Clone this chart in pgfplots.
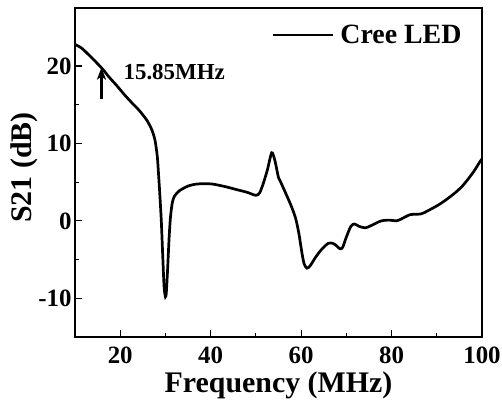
\documentclass[border=0pt]{standalone}
\usepackage{pgfplots}
\pgfplotsset{compat=1.18}
\usepackage{fontspec}
\setmainfont{Liberation Serif}
\usetikzlibrary{calc,arrows.meta}

% Measured transmission of the LED link
\pgfplotstableread{
f s21
10 22.8
11.5 22.3
13.3 21.3
15 20.3
16.2 19.55
17.5 18.6
19.2 17.5
21 16.25
22.5 15.3
24 14.4
25 13.7
26 12.9
27 11.75
27.7 10.4
28.2 8.3
28.5 5.8
28.8 3.0
29.1 -0.2
29.4 -4.5
29.7 -8.5
30.0 -9.8
30.2 -9.2
30.5 -6.0
30.8 -2.3
31.1 0.4
31.5 2.3
32.0 3.2
33.1 3.9
35 4.5
36.8 4.75
38.5 4.8
40.5 4.75
43.4 4.4
46 4.0
48 3.7
50.0 3.3
50.8 3.6
51.5 4.6
52.5 6.5
53.5 8.8
54.2 7.8
55.0 5.6
55.5 5.0
56.8 3.3
57.9 1.8
58.8 0.3
59.5 -1.6
60.2 -4.2
60.7 -5.6
61.3 -6.1
62.0 -5.8
63.2 -4.7
64.5 -3.7
66.0 -2.9
67.0 -2.9
67.6 -3.1
68.6 -3.6
69.2 -3.4
70.0 -2.1
71.0 -0.7
71.8 -0.4
72.8 -0.7
74.2 -0.9
75.5 -0.6
77.7 0.0
79.5 0.1
81.0 0.0
82 0.2
84.1 0.8
86.5 0.9
88 1.3
90.2 2.0
92 2.7
94.0 3.6
95.5 4.4
96.8 5.3
98.2 6.4
99.5 7.6
100 8.0
}\sparams

\begin{document}
\begin{tikzpicture}
\begin{axis}[
  name=ax,
  scale only axis,
  width=407bp, height=329bp,
  xmin=10, xmax=100, ymin=-15, ymax=27.5,
  xtick={20,40,60,80,100},
  ytick={-10,0,10,20},
  minor tick num=1,
  tick pos=left,
  tick align=inside,
  major tick length=7bp,
  minor tick length=4bp,
  axis line style={line width=1.2bp},
  every tick/.style={black, line width=1.2bp},
  /pgf/number format/assume math mode=true,
  ticklabel style={font=\fontsize{25}{25}\selectfont\bfseries},
  xticklabel style={yshift=-6bp},
  xlabel={Frequency (MHz)},
  ylabel={S21 (dB)},
  label style={font=\fontsize{30}{30}\selectfont\bfseries},
  xlabel style={at={(axis description cs:0.5,0)}, anchor=base, yshift=-55bp},
  ylabel style={at={(axis description cs:-0.125,0.515)}, anchor=center},
  legend style={draw=none, fill=none, at={(rel axis cs:0.955,0.955)}, anchor=north east,
    font=\fontsize{28}{28}\selectfont\bfseries, inner sep=0pt, column sep=4bp},
  legend image code/.code={%
    \draw[#1, line width=2.2bp] (0bp,0bp) -- (60bp,0bp);},
]
\addplot[black, line width=2.7bp, smooth, tension=0.45] table[x=f, y=s21] {\sparams};
\addlegendentry{Cree LED}

\draw[black, line width=2.2bp, -{Stealth[length=12bp,width=9bp,inset=3bp]}]
  (axis cs:15.85,15.8) -- (axis cs:15.85,19.8);
\node[anchor=west, inner sep=0pt, font=\fontsize{23}{23}\selectfont\bfseries]
  at (axis cs:20.7,19.2) {15.85MHz};
\end{axis}
\pgfresetboundingbox
\path ($(ax.south west)+(-75bp,-65bp)$) rectangle ($(ax.north east)+(20bp,8bp)$);
\end{tikzpicture}
\end{document}
